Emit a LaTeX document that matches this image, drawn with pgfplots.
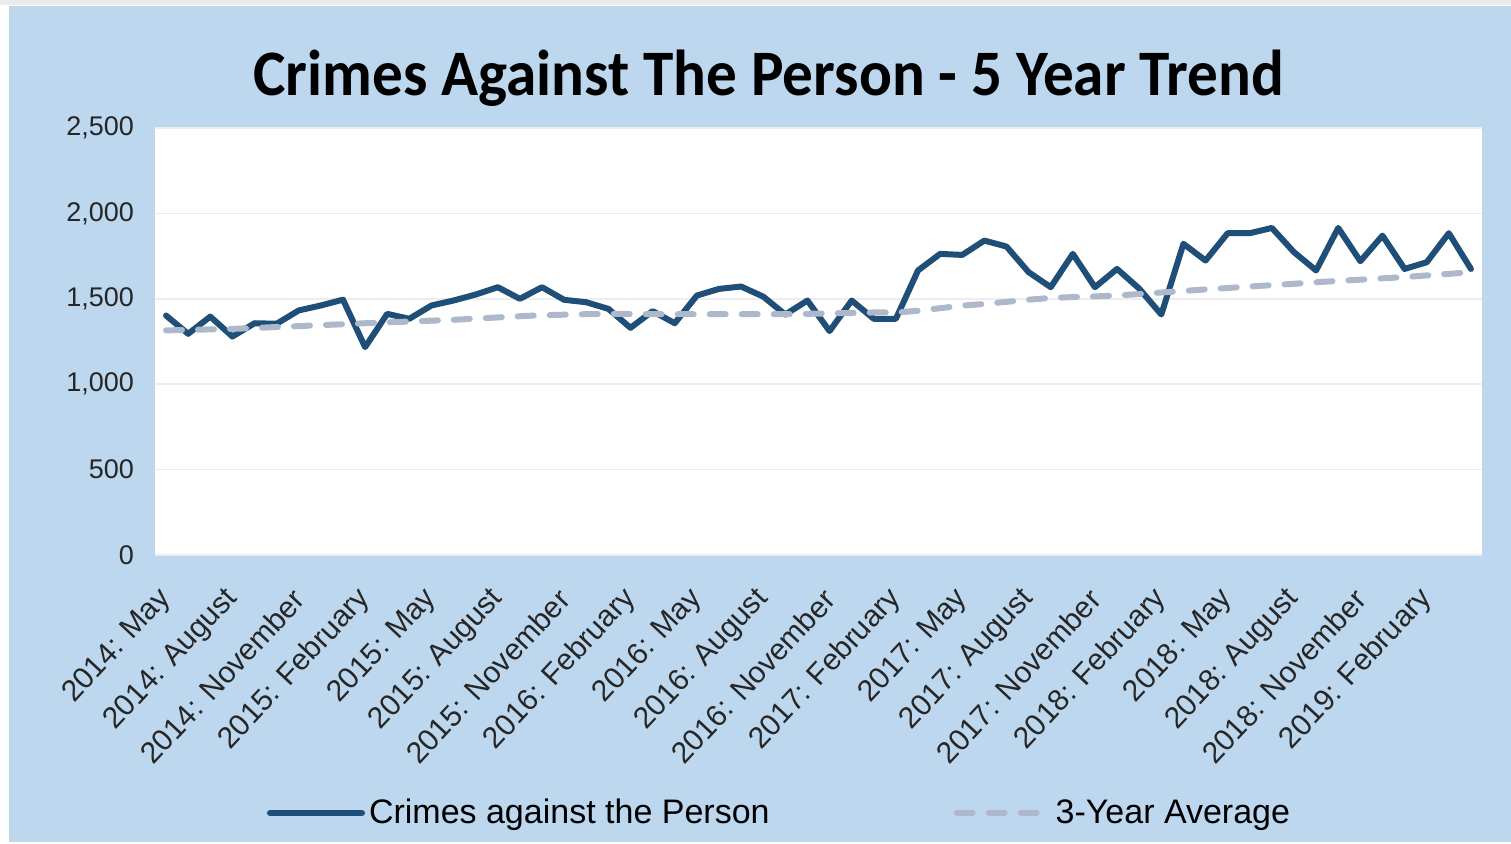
\documentclass[border=0pt]{standalone}
\usepackage{fontspec}
\setmainfont{Liberation Sans}
\newfontfamily\titlefont{Carlito}
\usepackage{graphicx}
\usepackage{pgfplots}
\pgfplotsset{compat=1.18}
\definecolor{bgblue}{HTML}{BDD7EE}
\definecolor{crimeblue}{HTML}{1F4E79}
\definecolor{avggray}{HTML}{ADB9CA}

\begin{document}
\begin{tikzpicture}[x=0.5pt,y=0.5pt]
\path[use as bounding box] (0,0) rectangle (1511,843);
\fill[white] (0,0) rectangle (1511,843);
\fill[black!8] (0,838) rectangle (1511,843);
\fill[bgblue] (9,1) rectangle (1511,837);
\node[font=\titlefont\bfseries\fontsize{30.6}{36}\selectfont] at (769,765)
  {\scalebox{1}[1.06]{Crimes Against The Person - 5 Year Trend}};
\begin{axis}[
  at={(77.5pt,144pt)}, anchor=south west,
  width=663.5pt, height=213.5pt, scale only axis,
  xmin=0.5, xmax=60.5, ymin=0, ymax=2500,
  xtick={1,4,...,58},
  xticklabels={2014: May,2014: August,2014: November,2015: February,
    2015: May,2015: August,2015: November,2016: February,2016: May,
    2016: August,2016: November,2017: February,2017: May,2017: August,
    2017: November,2018: February,2018: May,2018: August,2018: November,
    2019: February},
  xticklabel style={xshift=2.5pt, yshift=-17pt, rotate=47, anchor=east,
    font=\fontsize{15}{17}\selectfont},
  ytick={0,500,...,2500},
  scaled y ticks=false,
  yticklabel style={/pgf/number format/1000 sep={,}, xshift=-7pt},
  /pgf/number format/assume math mode=true,
  tick label style={font=\fontsize{13.5}{16}\selectfont, text=black!85},
  ymajorgrids, grid style={black!7, line width=0.8pt},
  axis line style={draw=none},
  tick style={draw=none},
  axis background/.style={fill=white},
  legend columns=2,
  legend style={at={(0.4714,-0.604)}, anchor=center, draw=none, fill=none,
    font=\fontsize{17}{20}\selectfont,
    /tikz/every even column/.append style={column sep=90pt}},
  legend cell align=left,
  legend image code/.code={\draw[#1] (0pt,0pt) -- (46pt,0pt);},
]
\addplot[crimeblue, line width=3pt, line join=round, line cap=round] coordinates {
(1,1402) (2,1295) (3,1396) (4,1279) (5,1357) (6,1354) (7,1432) (8,1461)
(9,1495) (10,1217) (11,1412) (12,1383) (13,1461) (14,1490) (15,1525)
(16,1568) (17,1500) (18,1568) (19,1494) (20,1480) (21,1441) (22,1330)
(23,1428) (24,1357) (25,1519) (26,1558) (27,1572) (28,1513) (29,1408)
(30,1490) (31,1311) (32,1490) (33,1383) (34,1383) (35,1666) (36,1763)
(37,1757) (38,1841) (39,1806) (40,1656) (41,1568) (42,1763) (43,1568)
(44,1675) (45,1560) (46,1408) (47,1822) (48,1724) (49,1884) (50,1884)
(51,1915) (52,1773) (53,1666) (54,1915) (55,1720) (56,1870) (57,1675)
(58,1714) (59,1884) (60,1675)
};
\addlegendentry{Crimes against the Person}
\addplot[avggray, line width=3pt, line cap=round, dash pattern=on 8pt off 8pt] coordinates {
(1,1315) (2,1318) (3,1321) (4,1324) (5,1329) (6,1335) (7,1340) (8,1346)
(9,1351) (10,1357) (11,1362) (12,1367) (13,1372) (14,1377) (15,1384)
(16,1391) (17,1398) (18,1404) (19,1407) (20,1410) (21,1412) (22,1411)
(23,1410) (24,1410) (25,1410) (26,1410) (27,1410) (28,1410) (29,1410)
(30,1412) (31,1415) (32,1417) (33,1420) (34,1420) (35,1430) (36,1445)
(37,1460) (38,1470) (39,1482) (40,1495) (41,1505) (42,1510) (43,1514)
(44,1519) (45,1528) (46,1537) (47,1546) (48,1555) (49,1563) (50,1572)
(51,1580) (52,1588) (53,1597) (54,1605) (55,1612) (56,1620) (57,1627)
(58,1637) (59,1646) (60,1656)
};
\addlegendentry{3-Year Average}
\end{axis}
\end{tikzpicture}
\end{document}
